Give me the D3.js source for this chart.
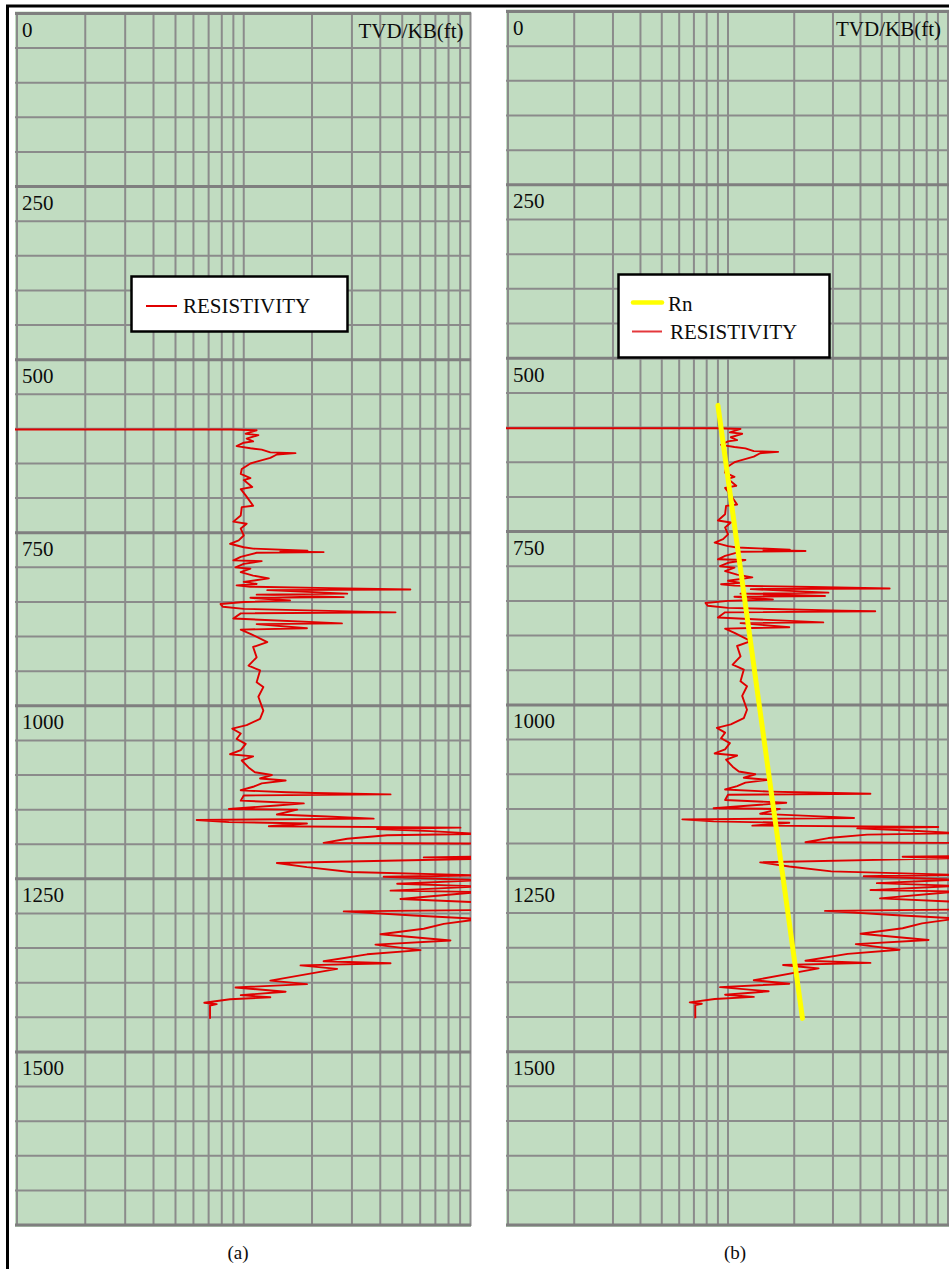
<!DOCTYPE html>
<html>
<head>
<meta charset="utf-8">
<script src="https://cdn.jsdelivr.net/npm/d3@7"></script>
<style>
  body { margin: 0; background: #fff; }
  svg { display: block; }
  text { font-family: "Liberation Serif", "DejaVu Serif", serif; fill: #0c0c0c; }
</style>
</head>
<body>
<div id="chart"></div>
<script>
// Resistivity log (ohm-m) against true vertical depth (ft).
const depth = [
  601, 601, 602, 607, 609, 614, 618, 620, 625, 628, 630, 634, 635, 637, 642, 648, 650, 658, 665, 671,
  674, 684, 687, 696, 711, 713, 725, 734, 737, 744, 754, 761, 766, 771, 773, 776, 777, 778, 779, 785,
  790, 791, 795, 800, 802, 807, 812, 816, 821, 824, 826, 828, 830, 832, 833, 838, 839.5, 843, 844, 848,
  850, 853, 857, 860, 864, 865, 866.5, 874, 881, 882, 888, 890, 896, 908, 915, 930, 942, 949, 966, 973,
  987, 1007, 1019, 1028, 1033, 1040, 1048, 1055, 1064, 1070, 1073, 1079, 1089, 1096, 1100, 1105, 1108, 1112, 1117, 1122,
  1125, 1126, 1128, 1129.5, 1137, 1141, 1144, 1149, 1150, 1157, 1160, 1163, 1165, 1168, 1170, 1174, 1176, 1178, 1181, 1185,
  1187, 1192, 1198, 1199, 1218, 1219, 1221, 1227, 1233, 1240, 1245, 1247, 1252, 1257, 1261, 1267, 1269, 1279, 1284, 1295,
  1297, 1303, 1308, 1315, 1322, 1330, 1339, 1345, 1353, 1359, 1369, 1372, 1375, 1380, 1397, 1402, 1407, 1413, 1418, 1421,
  1424, 1429, 1431, 1433, 1452
];
const resistivity = [
  0.09, 0.89, 1.14, 1.02, 1.16, 1.03, 1.10, 1.00, 0.93, 1.07, 1.20, 1.31, 1.69, 1.40, 1.31, 1.12, 1.07, 0.98, 0.97, 1.07,
  1.00, 1.09, 0.97, 1.02, 1.10, 0.98, 0.97, 0.90, 1.03, 0.97, 1.00, 0.95, 0.87, 1.00, 1.10, 1.91, 1.45, 2.25, 1.14, 0.97,
  0.90, 1.20, 1.00, 0.92, 1.07, 0.97, 1.10, 1.29, 1.00, 1.14, 0.93, 1.07, 2.41, 5.43, 1.27, 2.86, 1.14, 2.76, 1.07, 1.60,
  1.00, 0.79, 0.81, 1.00, 3.27, 4.67, 0.97, 0.90, 2.71, 1.14, 1.90, 0.97, 1.07, 1.27, 1.10, 1.14, 1.05, 1.18, 1.14, 1.22,
  1.16, 1.22, 1.18, 1.03, 0.89, 0.97, 0.93, 1.02, 0.97, 0.87, 1.10, 0.98, 1.05, 1.12, 1.33, 1.18, 1.53, 1.20, 1.10, 0.97,
  1.55, 2.07, 4.44, 1.00, 0.97, 1.84, 1.40, 0.86, 1.72, 1.40, 2.33, 3.74, 0.62, 0.86, 1.90, 1.29, 9.03, 3.87, 6.66, 11,
  4.29, 2.86, 2.25, 11, 11, 6.22, 11, 1.40, 1.90, 2.95, 11, 4.14, 11, 4.75, 11, 4.44, 11, 4.91, 11, 11,
  2.76, 5.62, 11, 7.62, 6.22, 4.01, 8.16, 3.81, 6.02, 3.50, 2.25, 4.44, 1.78, 2.58, 1.31, 1.90, 0.92, 1.53, 0.97, 1.31,
  0.87, 0.67, 0.76, 0.71, 0.71
];
// Normal resistivity trend (Rn), panel (b) only.
const rnDepth = [568, 1452];
const rnValue = [0.90, 2.18];

const depthTicks = [0, 250, 500, 750, 1000, 1250, 1500];
const depthGrid = d3.range(0, 1751, 50);
const resGrid = [0.1, 0.2, 0.3, 0.4, 0.5, 0.6, 0.7, 0.8, 0.9, 1, 2, 3, 4, 5, 6, 7, 8, 9, 10];
const depthTitle = 'TVD/KB(ft)';
const captions = ['(a)', '(b)'];

const W = 949, H = 1269;
const svg = d3.select('#chart').append('svg')
    .attr('width', W)
    .attr('height', H);

// Panel frames in page pixels.
const panels = [
  {x0: 17, x1: 470.5, y0: 13.5, y1: 1225, right: 471, cap: 238, showRn: false},
  {x0: 508, x1: 948, y0: 11.5, y1: 1225, right: 949, cap: 735, showRn: true}
];

panels.forEach((p, i) => {
    const x = d3.scaleLog().domain([0.1, 10]).range([p.x0, p.x1]);
    const y = d3.scaleLinear().domain([0, 1750]).range([p.y0, p.y1]);
    const g = svg.append('g');

    // Background.
    g.append('rect')
        .attr('x', p.x0 - 2)
        .attr('y', p.y0 - 2)
        .attr('width', p.right - p.x0 + 2)
        .attr('height', p.y1 - p.y0 + 4)
        .attr('fill', '#c1dcc1');

    // Grid.
    g.selectAll('line.v')
        .data(resGrid)
        .enter()
        .append('line')
            .attr('x1', d => x(d))
            .attr('x2', d => x(d))
            .attr('y1', p.y0 - 1)
            .attr('y2', p.y1 + 1)
            .attr('stroke', '#8b8b8b')
            .attr('stroke-width', 2);
    g.selectAll('line.h')
        .data(depthGrid)
        .enter()
        .append('line')
            .attr('x1', p.x0 - 2)
            .attr('x2', p.right)
            .attr('y1', d => y(d))
            .attr('y2', d => y(d))
            .attr('stroke', d => d % 250 === 0 ? '#7f7f7f' : '#8b8b8b')
            .attr('stroke-width', d => d % 250 === 0 ? 3 : 2);

    // Depth labels.
    g.selectAll('text.depth')
        .data(depthTicks)
        .enter()
        .append('text')
            .attr('x', p.x0 + 5)
            .attr('y', d => y(d) + 23.5)
            .style('font-size', '21px')
            .text(d => d);
    g.append('text')
        .attr('x', p.x1 - 7)
        .attr('y', p.y0 + 24)
        .attr('text-anchor', 'end')
        .style('font-size', '21px')
        .text(depthTitle);

    // Curves, clipped to the panel.
    const clipId = `clip${i}`;
    svg.append('clipPath').attr('id', clipId)
        .append('rect')
            .attr('x', p.x0 - 2)
            .attr('y', p.y0)
            .attr('width', p.right - p.x0 + 2)
            .attr('height', p.y1 - p.y0);

    const resLine = d3.line()
        .x(k => x(resistivity[k]))
        .y(k => y(depth[k]));
    g.append('path')
        .attr('clip-path', `url(#${clipId})`)
        .attr('d', resLine(d3.range(depth.length)))
        .attr('fill', 'none')
        .attr('stroke', '#e00000')
        .attr('stroke-width', 1.9)
        .attr('stroke-linejoin', 'round');

    if (p.showRn) {
        const rnLine = d3.line()
            .x(k => x(rnValue[k]))
            .y(k => y(rnDepth[k]));
        g.append('path')
            .attr('d', rnLine(d3.range(rnDepth.length)))
            .attr('fill', 'none')
            .attr('stroke', '#ffff00')
            .attr('stroke-width', 5)
            .attr('stroke-linecap', 'round');
    }

    // Caption.
    svg.append('text')
        .attr('x', p.cap)
        .attr('y', 1259)
        .attr('text-anchor', 'middle')
        .style('font-size', '19px')
        .text(captions[i]);
});

// Legends.
const legA = svg.append('g');
legA.append('rect')
    .attr('x', 131.5).attr('y', 276.5).attr('width', 216).attr('height', 55)
    .attr('fill', '#fff').attr('stroke', '#000').attr('stroke-width', 2.5);
legA.append('line')
    .attr('x1', 146).attr('x2', 177).attr('y1', 306).attr('y2', 306)
    .attr('stroke', '#e00000').attr('stroke-width', 2);
legA.append('text')
    .attr('x', 183).attr('y', 313)
    .style('font-size', '21px')
    .text('RESISTIVITY');

const legB = svg.append('g');
legB.append('rect')
    .attr('x', 618.5).attr('y', 274.5).attr('width', 211).attr('height', 83)
    .attr('fill', '#fff').attr('stroke', '#000').attr('stroke-width', 2.5);
legB.append('line')
    .attr('x1', 633).attr('x2', 662).attr('y1', 302.5).attr('y2', 302.5)
    .attr('stroke', '#ffff00').attr('stroke-width', 4.5).attr('stroke-linecap', 'round');
legB.append('text')
    .attr('x', 668).attr('y', 311)
    .style('font-size', '21px')
    .text('Rn');
legB.append('line')
    .attr('x1', 632).attr('x2', 662).attr('y1', 331.5).attr('y2', 331.5)
    .attr('stroke', '#e4383c').attr('stroke-width', 2);
legB.append('text')
    .attr('x', 670).attr('y', 339)
    .style('font-size', '21px')
    .text('RESISTIVITY');

// Outer frame (top and left edges).
svg.append('line')
    .attr('x1', 6).attr('x2', W).attr('y1', 6).attr('y2', 6)
    .attr('stroke', '#000').attr('stroke-width', 3);
svg.append('line')
    .attr('x1', 7.5).attr('x2', 7.5).attr('y1', 5).attr('y2', H)
    .attr('stroke', '#000').attr('stroke-width', 3);
</script>
</body>
</html>
